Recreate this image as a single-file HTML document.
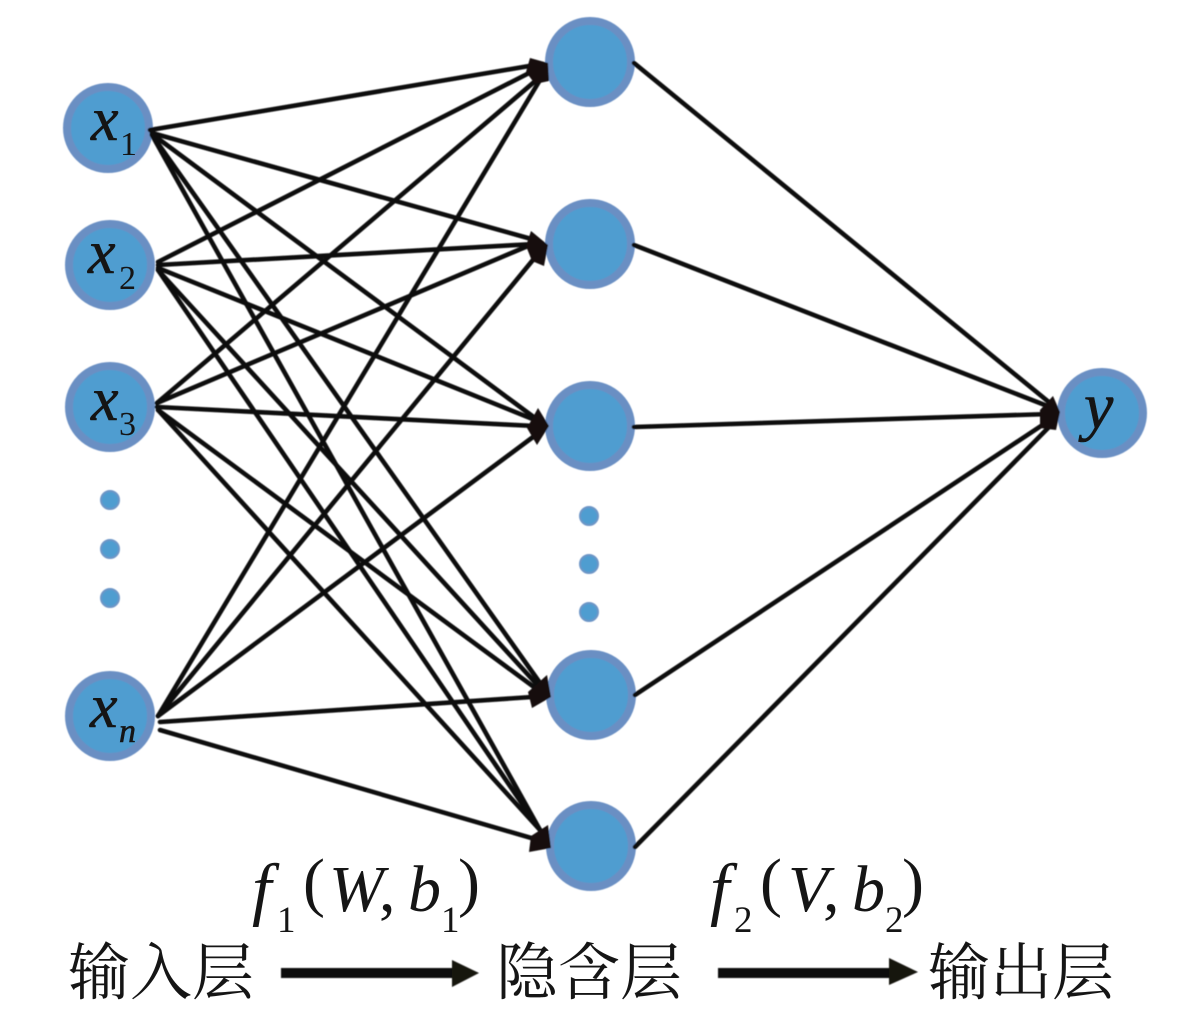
<!DOCTYPE html>
<html>
<head>
<meta charset="utf-8">
<style>
html,body{margin:0;padding:0;background:#fff;}
svg{display:block;}
text{fill:#151515;}
.m{font-family:"Liberation Serif",serif;}
.i{font-family:"Liberation Serif",serif;font-style:italic;stroke:#151515;stroke-width:.6;}
.c{font-family:"Liberation Serif","Noto Serif CJK SC",serif;font-size:62px;}
.n{fill:#4f9dd0;stroke:#6a8fc3;stroke-width:8;}
.d{fill:#4f9dd0;stroke:#6c95c6;stroke-width:2;}
.l line{stroke:#0c0c0c;stroke-width:4.6;stroke-linecap:round;}
.h{fill:#131110;}
</style>
</head>
<body>
<svg width="1181" height="1026" viewBox="0 0 1181 1026" xmlns="http://www.w3.org/2000/svg">
<defs>
<filter id="b" x="-2%" y="-2%" width="104%" height="104%"><feGaussianBlur stdDeviation="0.6"/></filter>
</defs>
<rect width="1181" height="1026" fill="#fff"/>

<g filter="url(#b)">
<circle class="n" cx="108" cy="128" r="41"/>
<circle class="n" cx="110" cy="265" r="41"/>
<circle class="n" cx="110" cy="407" r="41"/>
<circle class="n" cx="110" cy="716" r="41"/>
<circle class="n" cx="590" cy="62" r="41"/>
<circle class="n" cx="590" cy="244" r="41"/>
<circle class="n" cx="590" cy="426" r="41"/>
<circle class="n" cx="591" cy="695" r="41"/>
<circle class="n" cx="591" cy="846" r="41"/>
<circle class="n" cx="1102" cy="413" r="41"/>

<circle class="d" cx="110" cy="500" r="9"/>
<circle class="d" cx="110" cy="549" r="9"/>
<circle class="d" cx="110" cy="598" r="9"/>
<circle class="d" cx="589" cy="516" r="9"/>
<circle class="d" cx="589" cy="564" r="9"/>
<circle class="d" cx="589" cy="612" r="9"/>

<g class="l">
<line x1="150" y1="130" x2="535" y2="65"/>
<line x1="152" y1="133" x2="535" y2="240"/>
<line x1="152" y1="134" x2="535" y2="418"/>
<line x1="152" y1="135" x2="545" y2="690"/>
<line x1="152" y1="135" x2="540" y2="830"/>

<line x1="158" y1="262" x2="535" y2="70"/>
<line x1="158" y1="265" x2="535" y2="244"/>
<line x1="158" y1="268" x2="535" y2="420"/>
<line x1="158" y1="270" x2="542" y2="690"/>
<line x1="158" y1="270" x2="540" y2="830"/>

<line x1="157" y1="403" x2="540" y2="77"/>
<line x1="157" y1="403" x2="535" y2="243"/>
<line x1="157" y1="407" x2="535" y2="426"/>
<line x1="158" y1="410" x2="538" y2="690"/>
<line x1="158" y1="410" x2="540" y2="830"/>

<line x1="158" y1="716" x2="540" y2="80"/>
<line x1="158" y1="716" x2="537" y2="255"/>
<line x1="158" y1="716" x2="533" y2="437"/>
<line x1="160" y1="722" x2="532" y2="697"/>
<line x1="160" y1="730" x2="545" y2="842"/>

<line x1="634" y1="63" x2="1050" y2="403"/>
<line x1="634" y1="245" x2="1050" y2="407"/>
<line x1="634" y1="427" x2="1050" y2="414"/>
<line x1="635" y1="695" x2="1050" y2="420"/>
<line x1="635" y1="847" x2="1050" y2="426"/>
</g>

<polygon class="h" points="530,58 548,63 549,81 535,84 526,72"/>
<polygon class="h" points="531,231 548,245 544,266 532,261 526,246"/>
<polygon class="h" points="538,408 549,426 537,445 527,428"/>
<polygon class="h" points="547,675 551,697 532,708 528,692"/>
<polygon class="h" points="548,825 551,848 529,852 531,836"/>
<polygon class="h" points="1053,396 1060,412 1056,430 1040,428 1040,410"/>

<rect x="281" y="968" width="173" height="10" fill="#111"/>
<path d="M452,960 L479,973 L452,987 Z" fill="#151311"/>
<rect x="718" y="968" width="175" height="10" fill="#111"/>
<path d="M889,958 L918,972 L889,985 Z" fill="#151311"/>
</g>

<text class="i" x="91" y="140" font-size="62">x</text><text class="m" x="120" y="155" font-size="34">1</text>
<text class="i" x="88" y="273" font-size="62">x</text><text class="m" x="119" y="289" font-size="34">2</text>
<text class="i" x="91" y="420" font-size="62">x</text><text class="m" x="119" y="435" font-size="34">3</text>
<text class="i" x="90" y="727" font-size="62">x</text><text class="i" x="119" y="742" font-size="34">n</text>
<text class="i" x="1084" y="428" font-size="66">y</text>

<text class="i" x="252" y="912" font-size="70" style="stroke-width:0">f</text>
<text class="m" x="277" y="932" font-size="37">1</text>
<text class="m" x="303" y="904" font-size="66">(</text>
<text class="i" x="329" y="911" font-size="66" style="stroke-width:0">W</text>
<text class="m" x="379" y="911" font-size="66">,</text>
<text class="i" x="408" y="911" font-size="66" style="stroke-width:0">b</text>
<text class="m" x="441" y="932" font-size="37">1</text>
<text class="m" x="458" y="904" font-size="66">)</text>

<text class="i" x="710" y="912" font-size="70" style="stroke-width:0">f</text>
<text class="m" x="734" y="932" font-size="37">2</text>
<text class="m" x="760" y="904" font-size="66">(</text>
<text class="i" x="788" y="911" font-size="66" style="stroke-width:0">V</text>
<text class="m" x="823" y="911" font-size="66">,</text>
<text class="i" x="852" y="911" font-size="66" style="stroke-width:0">b</text>
<text class="m" x="885" y="932" font-size="37">2</text>
<text class="m" x="902" y="904" font-size="66">)</text>

<text class="c" x="68" y="994">输入层</text>
<text class="c" x="496" y="994">隐含层</text>
<text class="c" x="928" y="994">输出层</text>
</svg>
</body>
</html>
